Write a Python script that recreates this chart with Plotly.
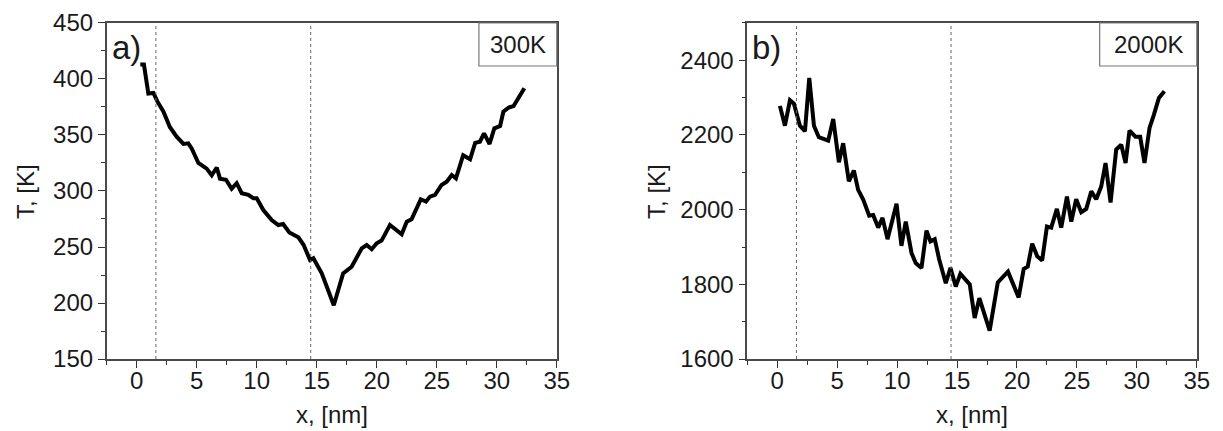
import plotly.graph_objects as go

# Panel a) 300K
x_a = [0.3, 0.6, 0.97, 1.39, 1.72, 2.22, 2.77, 3.33, 3.89, 4.3, 4.58, 5.14, 5.83, 6.25, 6.67,
       6.94, 7.44, 7.91, 8.33, 8.75, 9.3, 9.72, 10.0, 10.55, 11.25, 11.8, 12.2, 12.72, 13.47, 13.9,
       14.44, 14.72, 15.42, 16.42, 17.2, 17.91, 18.75, 19.16, 19.58, 20.0, 20.4, 21.1, 22.08, 22.5, 22.9,
       23.67, 24.1, 24.44, 24.86, 25.4, 25.83, 26.25, 26.6, 27.2, 27.78, 28.2, 28.6, 28.94, 29.4, 29.8,
       30.28, 30.55, 31.0, 31.4, 32.3]
t_a = [413, 413, 387, 387.5, 380, 371, 357, 348.5, 342, 342.6, 338, 325, 320, 314, 321,
       311, 310, 302, 307, 298, 296.5, 293.5, 293.5, 283, 274, 269.6, 270.5, 263, 258.6, 252,
       238.4, 240, 226.5, 198, 226.5, 232.4, 248.8, 251.8, 248, 253.3, 255.7, 269.6, 261.3, 272.6, 274.7,
       292.6, 290.5, 295, 296.5, 305.4, 308.3, 314.3, 311.3, 332, 328.3, 343, 344, 351.5, 342, 356,
       358, 370.8, 374.6, 375.8, 391.7]

# Panel b) 2000K
x_b = [0.22, 0.64, 1.06, 1.39, 1.89, 2.31, 2.67, 3.06, 3.47, 4.25, 4.67, 5.14, 5.5, 5.97, 6.39,
       6.75, 7.17, 7.67, 8.0, 8.42, 8.78, 9.2, 9.95, 10.36, 10.72, 11.2, 11.55, 12.03, 12.45, 12.78,
       13.14, 13.5, 14.06, 14.45, 14.89, 15.28, 16.06, 16.47, 16.86, 17.72, 18.4, 19.25, 20.14, 20.56, 20.9,
       21.27, 21.69, 22.1, 22.5, 22.86, 23.33, 23.69, 24.17, 24.53, 24.94, 25.36, 25.78, 26.2, 26.61, 27.03,
       27.39, 27.81, 28.28, 28.7, 29.06, 29.39, 29.89, 30.28, 30.64, 31.06, 31.42, 31.84, 32.3]
t_b = [2278, 2225, 2293, 2284, 2225, 2210, 2353, 2225, 2194, 2185, 2243, 2127, 2178, 2076, 2105,
       2053, 2027, 1984, 1986, 1952, 1978, 1921, 2016, 1903, 1968, 1884, 1857, 1844, 1944, 1915,
       1921, 1868, 1803, 1844, 1794, 1828, 1800, 1710, 1763, 1676, 1805, 1834, 1765, 1841, 1848,
       1909, 1875, 1864, 1955, 1952, 2002, 1952, 2035, 1968, 2028, 1993, 2002, 2049, 2028, 2062,
       2125, 2019, 2161, 2174, 2125, 2212, 2195, 2195, 2125, 2219, 2254, 2299, 2317]

dotted_x = [1.6, 14.5]
x_ticks = [0, 5, 10, 15, 20, 25, 30, 35]
y_ticks_a = [150, 200, 250, 300, 350, 400, 450]
y_ticks_b = [1600, 1800, 2000, 2200, 2400]
panel_labels = ["a)", "b)"]
temp_labels = ["300K", "2000K"]
x_title = "x, [nm]"
y_title = "T, [K]"

FONT = "Liberation Sans, Arial, sans-serif"
AXC = "#4a4a4a"
TXT = "#1a1a1a"
FS = 24

fig = go.Figure()
fig.add_trace(go.Scatter(x=x_a, y=t_a, mode="lines", line=dict(color="black", width=4),
                         xaxis="x", yaxis="y", showlegend=False))
fig.add_trace(go.Scatter(x=x_b, y=t_b, mode="lines", line=dict(color="black", width=4),
                         xaxis="x2", yaxis="y2", showlegend=False))

ydom = [0.1856, 0.9652]
common_x = dict(range=[-2.5, 35], tickvals=x_ticks, ticks="outside", ticklen=7, tickwidth=1.3,
                tickcolor="#333", showline=True, linecolor=AXC, linewidth=1.6, mirror=True,
                showgrid=False, zeroline=False, automargin=False, ticklabelstandoff=-8,
                tickfont=dict(family=FONT, size=FS, color=TXT),
                minor=dict(dtick=2.5, tick0=0, ticks="outside", ticklen=4, tickcolor="#333"))
common_y = dict(ticks="outside", ticklen=7, tickwidth=1.3, tickcolor="#333", showline=True,
                linecolor=AXC, linewidth=1.6, mirror=True, showgrid=False, zeroline=False,
                automargin=False, tickfont=dict(family=FONT, size=FS, color=TXT))

fig.update_layout(
    width=1223, height=431, margin=dict(l=0, r=0, t=0, b=0, pad=0, autoexpand=False),
    plot_bgcolor="white", paper_bgcolor="white", showlegend=False,
    xaxis=dict(domain=[0.0807, 0.4487], anchor="y", **common_x),
    xaxis2=dict(domain=[0.6045, 0.9720], anchor="y2", **common_x),
    yaxis=dict(domain=ydom, anchor="x", range=[150, 450], tickvals=y_ticks_a,
               minor=dict(dtick=25, tick0=150, ticks="outside", ticklen=4, tickcolor="#333"),
               **common_y),
    yaxis2=dict(domain=ydom, anchor="x2", range=[1600, 2500], tickvals=y_ticks_b,
                minor=dict(dtick=100, tick0=1600, ticks="outside", ticklen=4, tickcolor="#333"),
                **common_y),
)

shapes = []
annotations = []
for xa, ya in [("x", "y"), ("x2", "y2")]:
    for dx in dotted_x:
        shapes.append(dict(type="line", xref=xa, yref=f"{ya} domain", x0=dx, x1=dx, y0=0, y1=1,
                           line=dict(color="#666", width=1, dash="dot")))
for i, (xa, ya) in enumerate([("x", "y"), ("x2", "y2")]):
    w = 0.173 if i == 0 else 0.216
    shapes.append(dict(type="rect", xref=f"{xa} domain", yref=f"{ya} domain",
                       x0=1 - w, x1=1, y0=1 - 0.128, y1=1,
                       line=dict(color="#777", width=1.2), fillcolor="white"))
    annotations.append(dict(xref=f"{xa} domain", yref=f"{ya} domain", x=1 - w / 2, y=1 - 0.064,
                            text=temp_labels[i], showarrow=False, xanchor="center", yanchor="middle",
                            font=dict(family=FONT, size=FS, color=TXT)))
    annotations.append(dict(xref=f"{xa} domain", yref=f"{ya} domain", x=0.007, y=0.927,
                            text=panel_labels[i], showarrow=False, xanchor="left", yanchor="middle",
                            font=dict(family=FONT, size=33, color=TXT)))

# axis titles placed as annotations
for xc in [0.2647, 0.7882]:
    annotations.append(dict(xref="paper", yref="paper", x=xc, y=0.058, text=x_title,
                            showarrow=False, xanchor="center", yanchor="middle",
                            font=dict(family=FONT, size=FS, color=TXT)))
for xc in [0.0139, 0.5298]:
    annotations.append(dict(xref="paper", yref="paper", x=xc, y=0.5754, text=y_title,
                            showarrow=False, xanchor="center", yanchor="middle", textangle=-90,
                            font=dict(family=FONT, size=FS, color=TXT)))
fig.update_layout(shapes=shapes, annotations=annotations)

fig.write_html("out.html")
